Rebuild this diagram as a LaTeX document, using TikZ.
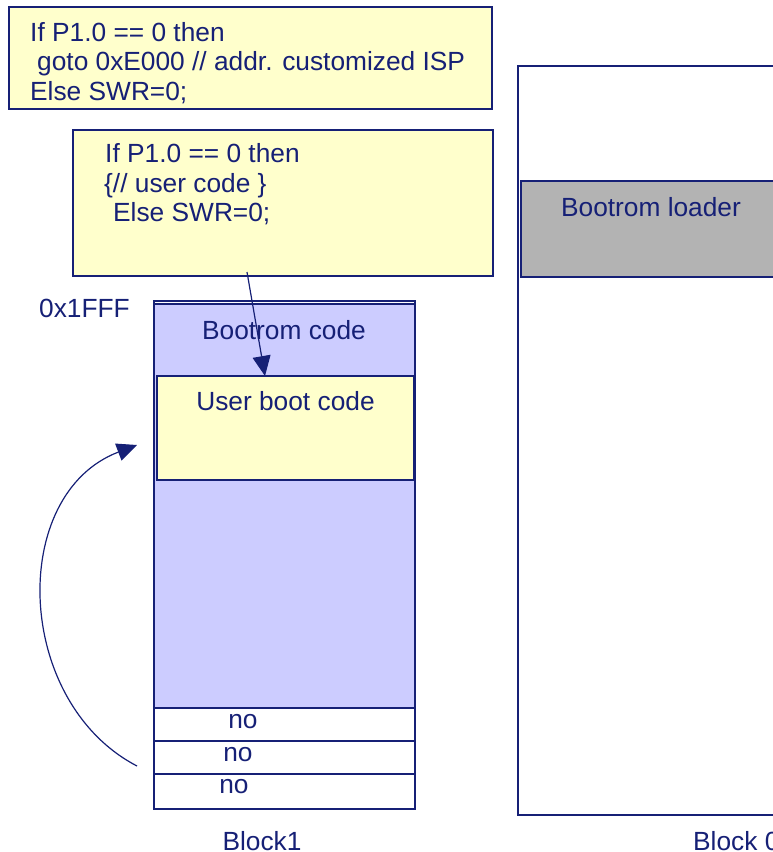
\documentclass[tikz,border=0pt]{standalone}
\usepackage{fontspec}
\setmainfont{Liberation Sans}
\usetikzlibrary{arrows.meta}
\definecolor{navyline}{RGB}{22,32,118}
\definecolor{codeyellow}{RGB}{255,255,204}
\definecolor{romblue}{RGB}{204,204,255}
\definecolor{loadergray}{RGB}{179,179,179}
\tikzset{
  membox/.style={draw=navyline, line width=1.6pt, inner sep=0pt, outer sep=0pt, anchor=north west},
  txt/.style={text=navyline, inner sep=0pt, font=\fontsize{26.3}{29.5}\selectfont},
  tip/.style={-{Triangle[length=20pt,width=18pt]}, draw=navyline, line width=1.2pt},
}
\begin{document}
\begin{tikzpicture}[x=1pt,y=-1pt]
  \useasboundingbox (0,0) rectangle (772,852);
  % code boxes
  \node[membox, fill=codeyellow, minimum width=483pt, minimum height=102pt] (ispbox) at (9,7) {};
  \node[membox, fill=codeyellow, minimum width=420pt, minimum height=146pt] (userbox) at (73,130) {};
  \node[txt, anchor=base west] (isp1) at (30,41) {If P1.0 == 0 then};
  \node[txt, anchor=base west] (isp2) at (37,70) {goto 0xE000 // addr. customized ISP};
  \node[txt, anchor=base west] (isp3) at (30,100) {Else SWR=0;};
  \node[txt, anchor=base west] (user1) at (105,162) {If P1.0 == 0 then};
  \node[txt, anchor=base west] (user2) at (104,192) {\{// user code \}};
  \node[txt, anchor=base west] (user3) at (113,221) {Else SWR=0;};
  % block 1
  \node[membox, fill=romblue, minimum width=261pt, minimum height=404pt] (romcode) at (154,304) {};
  \node[membox, fill=codeyellow, minimum width=257pt, minimum height=104pt] (usercode) at (157,376) {};
  \node[membox, minimum width=261pt, minimum height=33pt] (row1) at (154,708) {};
  \node[membox, minimum width=261pt, minimum height=33pt] (row2) at (154,741) {};
  \node[membox, minimum width=261pt, minimum height=35pt] (row3) at (154,774) {};
  \node[membox, minimum width=261pt, minimum height=508pt] (block1) at (154,301) {};
  \node[txt, anchor=base west] (topaddr) at (39,317) {0x1FFF};
  \node[txt, anchor=base] (romlbl) at (284,339) {Bootrom code};
  \node[txt, anchor=base] (userlbl) at (285.5,410) {User boot code};
  \node[txt, anchor=base] (no1) at (243,728) {no};
  \node[txt, anchor=base] (no2) at (238,761) {no};
  \node[txt, anchor=base] (no3) at (234,793) {no};
  \node[txt, anchor=base] (blk1lbl) at (262,850) {Block1};
  % block 0
  \node[membox, minimum width=300pt, minimum height=749pt] (block0) at (518,66) {};
  \node[membox, fill=loadergray, minimum width=300pt, minimum height=96pt] (loader) at (521,181) {};
  \node[txt, anchor=base] (loaderlbl) at (651,216) {Bootrom loader};
  \node[txt, anchor=base west] (blk0lbl) at (693,850) {Block 0};
  % arrows
  \draw[tip] ([xshift=-36pt,yshift=4pt]userbox.south) -- ([xshift=-20.5pt]usercode.north);
  \coordinate (loopstart) at (137,766);
  \coordinate (looptip) at (137,445);
  \draw[tip] (loopstart) .. controls (14,702) and (8,494) .. (looptip);
\end{tikzpicture}
\end{document}
